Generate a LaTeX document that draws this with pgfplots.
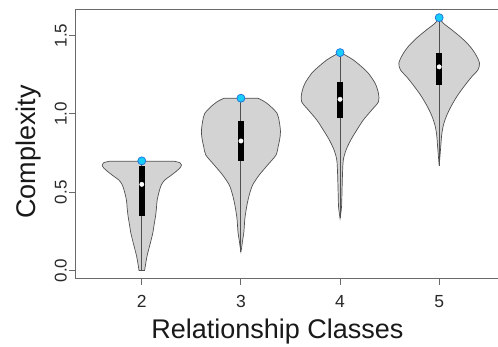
\documentclass[border=0pt]{standalone}
\usepackage{pgfplots}
\pgfplotsset{compat=1.18}
\usepgfplotslibrary{fillbetween}
\usepackage{pgfplotstable}
\usepackage{graphicx}
\usepackage{fontspec}
\setmainfont{Liberation Sans}

\definecolor{violinfill}{RGB}{211,211,211}
\definecolor{violinedge}{RGB}{80,80,80}
\definecolor{axisgray}{RGB}{105,105,105}
\definecolor{ticktext}{RGB}{40,40,40}
\definecolor{maxfill}{RGB}{25,205,250}
\definecolor{maxedge}{RGB}{30,110,220}

% violin outlines: complexity value y and half width w of the density
\pgfplotstableread{
y      w
0.000  0.028
0.040  0.038
0.090  0.052
0.131  0.068
0.185  0.090
0.240  0.111
0.300  0.126
0.344  0.138
0.400  0.148
0.450  0.155
0.514  0.179
0.550  0.200
0.578  0.232
0.605  0.290
0.631  0.343
0.655  0.385
0.674  0.400
0.688  0.385
0.697  0.330
}\vtwo

\pgfplotstableread{
y      w
0.120  0.000
0.150  0.008
0.184  0.015
0.248  0.030
0.333  0.040
0.418  0.061
0.482  0.084
0.546  0.118
0.610  0.185
0.674  0.270
0.738  0.355
0.790  0.375
0.833  0.390
0.886  0.399
0.950  0.387
1.004  0.364
1.057  0.283
1.085  0.220
1.100  0.170
}\vthree

\pgfplotstableread{
y      w
0.333  0.000
0.407  0.015
0.514  0.020
0.620  0.025
0.706  0.033
0.770  0.061
0.833  0.108
0.897  0.169
0.961  0.235
1.025  0.320
1.078  0.388
1.132  0.387
1.195  0.354
1.259  0.286
1.300  0.219
1.344  0.134
1.376  0.050
1.391  0.000
}\vfour

\pgfplotstableread{
y      w
0.670  0.000
0.801  0.017
0.865  0.025
0.929  0.043
0.993  0.078
1.057  0.128
1.121  0.189
1.185  0.263
1.238  0.330
1.280  0.390
1.323  0.407
1.376  0.371
1.429  0.313
1.483  0.229
1.536  0.128
1.578  0.043
1.614  0.000
}\vfive

% summary per class: min, q1, median, q3, max
\pgfplotstableread{
x  min    q1     med    q3     max
2  0.000  0.350  0.550  0.665  0.700
3  0.120  0.700  0.827  0.955  1.100
4  0.333  0.976  1.093  1.206  1.391
5  0.670  1.185  1.300  1.387  1.614
}\summary

\newcommand{\violin}[2]{%
  \addplot[draw=none, smooth, name path=r#1] table[x expr=#1+\thisrow{w}, y=y] {#2};
  \addplot[draw=none, smooth, name path=l#1] table[x expr=#1-\thisrow{w}, y=y] {#2};
  \addplot[fill=violinfill, draw=violinedge, line width=0.7pt] fill between[of=r#1 and l#1, reverse=true];
}

\begin{document}
\begin{tikzpicture}
\begin{axis}[
  name=ax,
  scale only axis,
  width=429.6pt, height=269pt,
  xmin=1.326, xmax=5.66,
  ymin=-0.054, ymax=1.663,
  axis line style={axisgray, line width=1pt},
  xtick={2,3,4,5},
  xticklabels={2,3,4,5},
  ytick={0,0.5,1,1.5},
  yticklabels={0.0,0.5,1.0,1.5},
  xtick pos=lower, ytick pos=left,
  tick align=outside,
  major tick length=6pt,
  tick style={axisgray, line width=1pt},
  xticklabel style={font=\fontsize{17.5}{17.5}\selectfont, text=ticktext, anchor=base, yshift=-23pt},
  yticklabel style={font=\fontsize{17}{17}\selectfont, text=ticktext, xshift=-2.3pt, rotate=90, anchor=base},
  xlabel={Relationship Classes},
  ylabel={Complexity},
  xlabel style={font=\fontsize{27}{27}\selectfont, text=black!90, at={(axis description cs:0.471,-0.223)}, anchor=base},
  ylabel style={font=\fontsize{27}{27}\selectfont, text=black!90, at={(axis description cs:-0.091,0.472)}, anchor=base, rotate=0},
  clip=false,
]
\violin{2}{\vtwo}
\violin{3}{\vthree}
\violin{4}{\vfour}
\violin{5}{\vfive}

% whiskers from minimum to maximum
\addplot[violinedge, line width=0.9pt] coordinates {(2,0.000) (2,0.700)};
\addplot[violinedge, line width=0.9pt] coordinates {(3,0.120) (3,1.100)};
\addplot[violinedge, line width=0.9pt] coordinates {(4,0.333) (4,1.391)};
\addplot[violinedge, line width=0.9pt] coordinates {(5,0.670) (5,1.614)};

% interquartile boxes
\addplot[fill=black, draw=none] coordinates {(1.971,0.350) (2.029,0.350) (2.029,0.665) (1.971,0.665)} --cycle;
\addplot[fill=black, draw=none] coordinates {(2.971,0.700) (3.029,0.700) (3.029,0.955) (2.971,0.955)} --cycle;
\addplot[fill=black, draw=none] coordinates {(3.971,0.976) (4.029,0.976) (4.029,1.206) (3.971,1.206)} --cycle;
\addplot[fill=black, draw=none] coordinates {(4.971,1.185) (5.029,1.185) (5.029,1.387) (4.971,1.387)} --cycle;

% medians
\addplot[only marks, mark=*, mark size=2.2pt, mark options={fill=white, draw=white}] table[x=x, y=med] {\summary};
% maxima
\addplot[only marks, mark=*, mark size=4pt, mark options={fill=maxfill, draw=maxedge, line width=0.7pt}] table[x=x, y=max] {\summary};
\end{axis}
\pgfresetboundingbox
\path[use as bounding box] ([shift={(-75pt,-68pt)}]ax.south west) rectangle ++(498pt,347pt);
\end{tikzpicture}
\end{document}
